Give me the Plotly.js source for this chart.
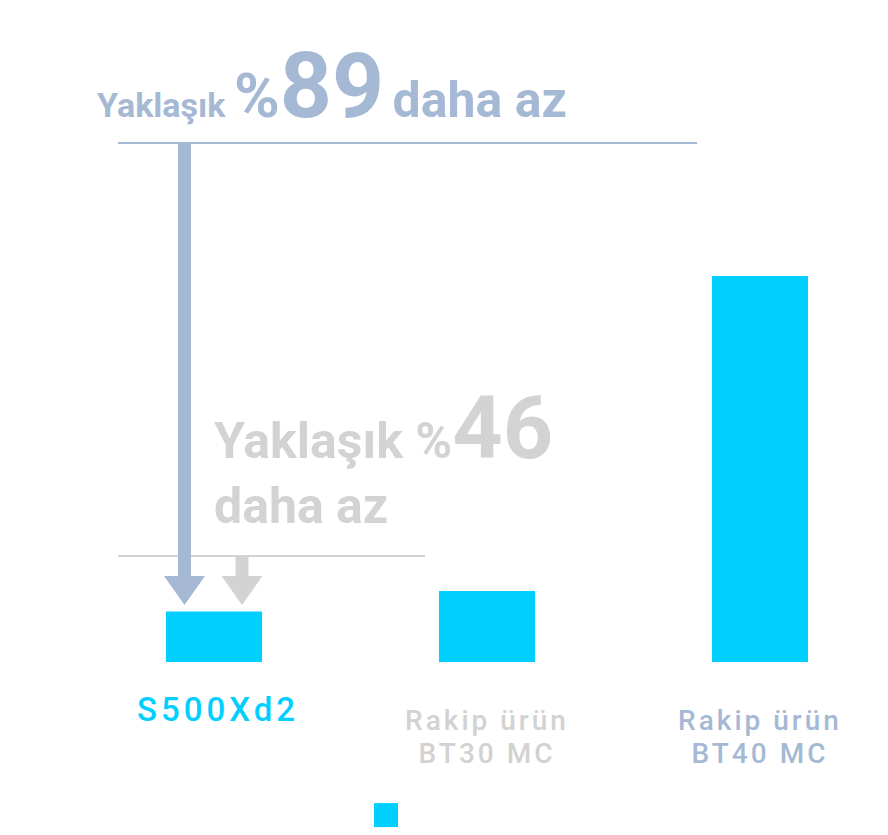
<!DOCTYPE html>
<html>
<head>
<meta charset="utf-8">
<script src="https://cdn.plot.ly/plotly-3.0.1.min.js"></script>
<style>
  body { margin: 0; background: #fff; }
  #chart { width: 888px; height: 835px; }
  .legendpoints path { transform: translate(20px, 0px) scale(2); }
  .xaxislayer-above .xtick:first-child { transform: translate(4px, -9px); }
</style>
</head>
<body>
<div id="chart"></div>
<script>
// relative values (BT40 MC = 100)
var products = ['S500Xd2', 'BT30', 'BT40'];
var values = [13.1, 18.4, 100];
var labels = [
    '<span style="color:#00CFFF;font-size:33px;letter-spacing:4px">S500Xd2</span>',
    '<span style="color:#D2D2D2;font-size:28px;letter-spacing:3px">Rakip ürün<br>BT30 MC</span>',
    '<span style="color:#A5B9D5;font-size:28px;letter-spacing:3px">Rakip ürün<br>BT40 MC</span>'
];

var blue = '#A5B9D5';
var grey = '#D3D3D3';
var cyan = '#00CFFF';

// pixel helpers for the decorations (plot area spans x 0..888, y 40..662)
var W = 888, TOP = 40, BASE = 662;
function px(v) { return v / W; }
function py(v) { return (BASE - v) / (BASE - TOP); }

var bars = {
    x: products,
    y: values,
    type: 'bar',
    name: '',
    width: 0.352,
    marker: { color: cyan },
    showlegend: true,
    hoverinfo: 'none'
}

function arrow(cx, yTop, color) {
    return [
        { type: 'rect', xref: 'paper', yref: 'paper', layer: 'above',
          x0: px(cx - 6.5), x1: px(cx + 6.5), y0: py(577), y1: py(yTop),
          fillcolor: color, line: { width: 0 } },
        { type: 'path', xref: 'paper', yref: 'paper', layer: 'above',
          path: 'M' + px(cx - 20.5) + ',' + py(576) + ' L' + px(cx + 20.5) + ',' + py(576) +
                ' L' + px(cx) + ',' + py(605) + ' Z',
          fillcolor: color, line: { width: 0 } }
    ];
}

var shapes = [
    { type: 'line', xref: 'paper', yref: 'paper', x0: px(118), x1: px(697), y0: py(143), y1: py(143),
      line: { color: blue, width: 2 } },
    { type: 'line', xref: 'paper', yref: 'paper', x0: px(118), x1: px(425), y0: py(556), y1: py(556),
      line: { color: grey, width: 2 } }
].concat(arrow(184.5, 144, blue), arrow(242, 557, grey));

var annotations = [
    { xref: 'paper', yref: 'paper', x: px(95), y: py(141), xanchor: 'left', yanchor: 'bottom',
      showarrow: false, align: 'left',
      font: { family: 'Roboto', size: 34, weight: 700, color: blue },
      text: 'Yaklaşık <span style="font-size:62px">%</span><span style="font-size:91px">89</span> ' +
            '<span style="font-size:50px">daha az</span>' },
    { xref: 'paper', yref: 'paper', x: px(212), y: py(537), xanchor: 'left', yanchor: 'bottom',
      showarrow: false, align: 'left',
      font: { family: 'Roboto', size: 50, weight: 700, color: grey },
      text: 'Yaklaşık %<span style="font-size:88px">46</span><br>daha az' }
];

var layout = {
    width: 888,
    height: 835,
    margin: { l: 0, r: 0, t: TOP, b: 835 - BASE, autoexpand: false },
    paper_bgcolor: '#fff',
    plot_bgcolor: '#fff',
    showlegend: true,
    legend: { orientation: 'h', x: px(366), xanchor: 'left', y: py(815.5), yanchor: 'middle',
              font: { size: 24 } },
    xaxis: {
        type: 'category',
        range: [-0.784, 2.469],
        tickvals: products,
        ticktext: labels,
        ticks: '',
        ticklabelstandoff: 42,
        tickfont: { family: 'Roboto', size: 25.4, weight: 500, color: '#D2D2D2' },
        showgrid: false, zeroline: false, showline: false
    },
    yaxis: {
        range: [0, 161.1],
        showgrid: false, zeroline: false, showline: false, showticklabels: false
    },
    shapes: shapes,
    annotations: annotations
};

Plotly.newPlot('chart', [bars], layout, { staticPlot: true });
</script>
</body>
</html>
